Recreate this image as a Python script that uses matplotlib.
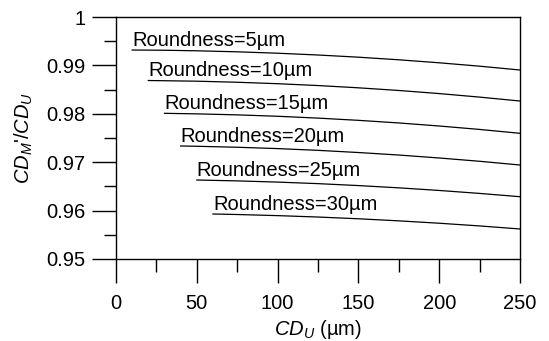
import numpy as np
import matplotlib
matplotlib.use('Agg')
import matplotlib.pyplot as plt
from matplotlib.ticker import MultipleLocator, FuncFormatter

plt.rcParams['font.family'] = ['Liberation Sans', 'DejaVu Sans']
plt.rcParams['mathtext.fontset'] = 'custom'
plt.rcParams['mathtext.rm'] = 'Liberation Sans'
plt.rcParams['mathtext.it'] = 'Liberation Sans:italic'

# roundness values (µm) and curves
roundness = [5, 10, 15, 20, 25, 30]
cd_5 = [10, 30, 50, 75, 100, 125, 150, 175, 200, 225, 250]
ratio_5 = [0.99318, 0.99313, 0.99302, 0.99281, 0.99252, 0.99215,
           0.99170, 0.99116, 0.99054, 0.98984, 0.98905]
cd_10 = [20, 50, 75, 100, 125, 150, 175, 200, 225, 250]
ratio_10 = [0.98688, 0.98674, 0.98652, 0.98622, 0.98584,
            0.98537, 0.98482, 0.98418, 0.98345, 0.98264]
cd_15 = [30, 50, 75, 100, 125, 150, 175, 200, 225, 250]
ratio_15 = [0.98010, 0.97999, 0.97978, 0.97949, 0.97911,
            0.97865, 0.97811, 0.97748, 0.97677, 0.97597]
cd_20 = [40, 50, 75, 100, 125, 150, 175, 200, 225, 250]
ratio_20 = [0.97335, 0.97329, 0.97309, 0.97281, 0.97245,
            0.97200, 0.97148, 0.97087, 0.97019, 0.96942]
cd_25 = [50, 75, 100, 125, 150, 175, 200, 225, 250]
ratio_25 = [0.96632, 0.96614, 0.96589, 0.96557, 0.96517,
            0.96470, 0.96416, 0.96355, 0.96287]
cd_30 = [60, 75, 100, 125, 150, 175, 200, 225, 250]
ratio_30 = [0.95930, 0.95919, 0.95896, 0.95867, 0.95831,
            0.95788, 0.95739, 0.95683, 0.95620]

xs = [cd_5, cd_10, cd_15, cd_20, cd_25, cd_30]
ys = [ratio_5, ratio_10, ratio_15, ratio_20, ratio_25, ratio_30]

fig = plt.figure(figsize=(5.49, 3.41), dpi=100)
ax = fig.add_axes([0.2113, 0.2405, 0.7359, 0.7096])

for r, x, y in zip(roundness, xs, ys):
    ax.plot(x, y, color='black', linewidth=0.9)
    ax.annotate(f'Roundness={r}µm', xy=(x[0], y[0]), xytext=(0, 3),
                textcoords='offset points', ha='left', va='baseline',
                fontsize=14.5)

ax.set_xlim(0, 250)
ax.set_ylim(0.95, 1.0)
ax.xaxis.set_major_locator(MultipleLocator(50))
ax.xaxis.set_minor_locator(MultipleLocator(25))
ax.yaxis.set_major_locator(MultipleLocator(0.01))
ax.yaxis.set_minor_locator(MultipleLocator(0.005))
ax.yaxis.set_major_formatter(FuncFormatter(lambda v, p: f'{v:g}'))

ax.tick_params(which='major', direction='out', length=17, width=1,
               labelsize=14.5, top=False, right=False)
ax.tick_params(which='minor', direction='out', length=9, width=1,
               top=False, right=False)
ax.tick_params(axis='x', which='major', pad=8)
ax.tick_params(axis='y', which='major', pad=5)

for s in ax.spines.values():
    s.set_linewidth(1)

ax.set_xlabel(r'$CD_U$ (µm)', fontsize=14.5, labelpad=4)
ax.set_ylabel(r"$CD_M$'$/CD_U$", fontsize=14.5, labelpad=8)

fig.savefig('out.png', dpi=100)
